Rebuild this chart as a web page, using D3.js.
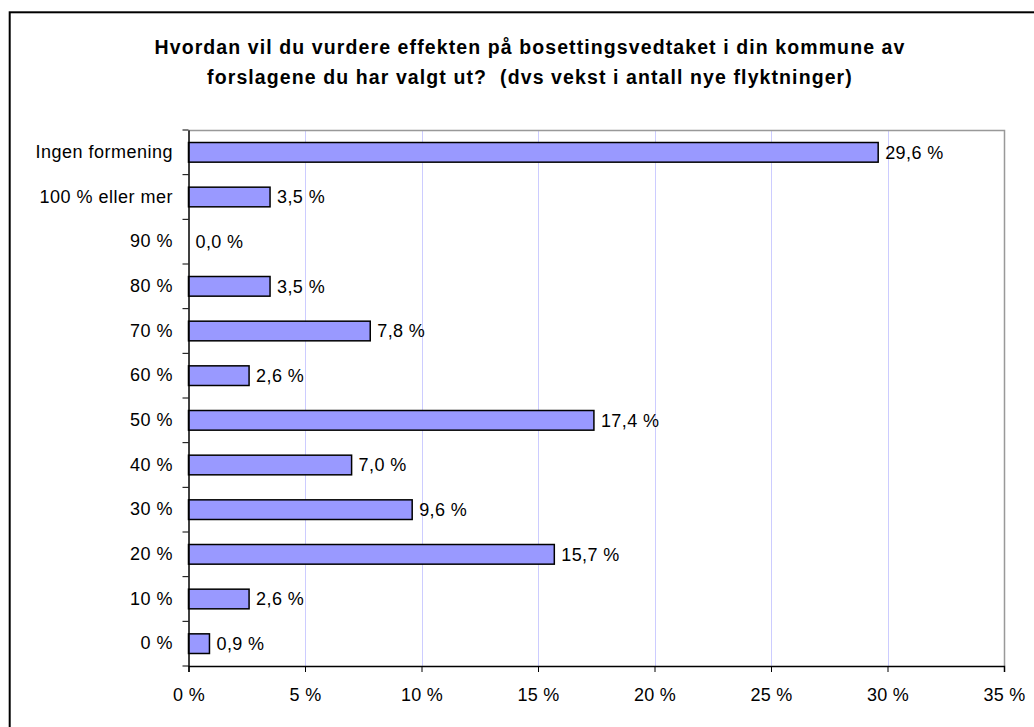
<!DOCTYPE html>
<html><head><meta charset="utf-8">
<script src="https://cdn.jsdelivr.net/npm/d3@7"></script>
<style>
body{margin:0;background:#fff;}
text{font-family:"Liberation Sans",Arial,sans-serif;}
</style></head>
<body>
<svg id="c" width="1034" height="727"></svg>
<script>
const categories = ["Ingen formening","100 % eller mer","90 %","80 %","70 %","60 %","50 %","40 %","30 %","20 %","10 %","0 %"];
const values = [29.6, 3.5, 0.0, 3.5, 7.8, 2.6, 17.4, 7.0, 9.6, 15.7, 2.6, 0.9];
const xTicks = [0,5,10,15,20,25,30,35];
const titleLines = ["Hvordan vil du vurdere effekten på bosettingsvedtaket i din kommune av","forslagene du har valgt ut?  (dvs vekst i antall nye flyktninger)"];

const FS = 18;
const svg = d3.select("#c");
svg.append("rect").attr("x",9.7).attr("y",12.3).attr("width",1040).attr("height",730)
  .attr("fill","#fff").attr("stroke","#000").attr("stroke-width",2);

const L=188.5, R=1004, T=130, B=666;
const x = d3.scaleLinear().domain([0,35]).range([L,R]);
const y = d3.scaleBand().domain(categories).range([T,B]).paddingInner(0.56).paddingOuter(0.28);

// gridlines
svg.append("g").selectAll("line").data(xTicks.filter(d=>d>0&&d<35)).join("line")
  .attr("x1",d=>Math.round(x(d))+0.5).attr("x2",d=>Math.round(x(d))+0.5)
  .attr("y1",T).attr("y2",B).attr("stroke","#ccccff").attr("stroke-width",1);
// plot border top/right
svg.append("path").attr("d",`M${L},${T+0.5}H${R+0.5}V${B}`).attr("fill","none").attr("stroke","#999").attr("stroke-width",1.5);

// bars
svg.append("g").selectAll("rect").data(values).join("rect")
  .attr("x",x(0)).attr("y",(d,i)=>y(categories[i]))
  .attr("width",d=>x(d)-x(0)).attr("height",y.bandwidth())
  .attr("fill","#9999ff").attr("stroke","#000").attr("stroke-width",1.5)
  .attr("display",d=>d>0?null:"none");

// value labels
svg.append("g").selectAll("text").data(values).join("text")
  .attr("x",d=>x(d)+7).attr("y",(d,i)=>y(categories[i])+y.bandwidth()/2)
  .attr("dy","0.35em").attr("font-size",FS).attr("letter-spacing","0.4px").attr("fill","#000")
  .text(d=>d.toFixed(1).replace(".",",")+" %");

// x axis
const xa = svg.append("g").attr("transform",`translate(0,${B})`)
  .call(d3.axisBottom(x).tickValues(xTicks).tickSize(6).tickPadding(16).tickFormat(d=>d+" %"));
xa.select(".domain").attr("stroke","#000").attr("stroke-width",1.5);
xa.selectAll(".tick line").attr("stroke","#000");
xa.selectAll("text").attr("font-size",FS).attr("letter-spacing","0.3px").attr("font-family","Liberation Sans, Arial, sans-serif").attr("fill","#000");

// y axis
const ya = svg.append("g").attr("transform",`translate(${L},0)`)
  .call(d3.axisLeft(y).tickSize(0).tickPadding(15.5));
ya.select(".domain").attr("stroke","#000").attr("stroke-width",1.5);
ya.selectAll("text").attr("font-size",FS).attr("letter-spacing","0.5px").attr("font-family","Liberation Sans, Arial, sans-serif").attr("fill","#000");
// y tick marks at band boundaries
const bounds = d3.range(categories.length+1).map(i=>T+i*(B-T)/categories.length);
svg.append("g").selectAll("line").data(bounds).join("line")
  .attr("x1",L-6).attr("x2",L).attr("y1",d=>d).attr("y2",d=>d)
  .attr("stroke","#000").attr("stroke-width",1);

// title
svg.append("g").selectAll("text").data(titleLines).join("text")
  .attr("x",530).attr("y",(d,i)=>54+i*30).attr("text-anchor","middle")
  .attr("font-size",19.5).attr("font-weight","bold").attr("letter-spacing","1.1px").attr("fill","#000")
  .style("white-space","pre").text(d=>d);
</script>
</body></html>
